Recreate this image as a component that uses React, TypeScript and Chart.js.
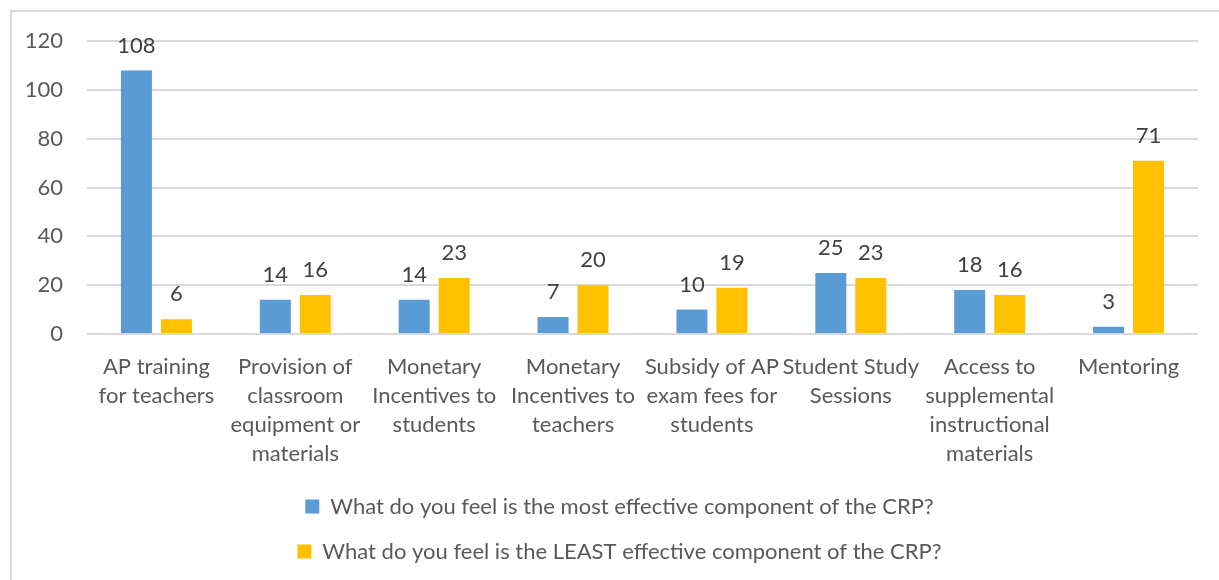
import React, { useEffect, useRef } from "react";
import { Chart, registerables } from "chart.js";

Chart.register(...registerables);

const categories: string[][] = [
  ["AP training", "for teachers"],
  ["Provision of", "classroom", "equipment or", "materials"],
  ["Monetary", "Incentives to", "students"],
  ["Monetary", "Incentives to", "teachers"],
  ["Subsidy of AP", "exam fees for", "students"],
  ["Student Study", "Sessions"],
  ["Access to", "supplemental", "instructional", "materials"],
  ["Mentoring"],
];
const mostEffective = [108, 14, 14, 7, 10, 25, 18, 3];
const leastEffective = [6, 16, 23, 20, 19, 23, 16, 71];
const seriesLabels = [
  "What do you feel is the most effective component of the CRP?",
  "What do you feel is the LEAST effective component of the CRP?",
];
const yTicks = [0, 20, 40, 60, 80, 100, 120];

const FONT = "Lato, 'Liberation Sans', sans-serif";
const FS = 22;

const valueLabels = {
  id: "valueLabels",
  afterDatasetsDraw(chart: any) {
    const ctx = chart.ctx;
    ctx.save();
    ctx.font = `${FS}px ${FONT}`;
    ctx.fillStyle = "#404040";
    ctx.textAlign = "center";
    ctx.textBaseline = "middle";
    chart.data.datasets.forEach((ds: any, di: number) => {
      const meta = chart.getDatasetMeta(di);
      meta.data.forEach((el: any, i: number) => {
        ctx.fillText(String(ds.data[i]), el.x, el.y - 25);
      });
    });
    ctx.restore();
  },
};

export default function App() {
  const ref = useRef<HTMLCanvasElement | null>(null);
  useEffect(() => {
    if (!ref.current) return;
    const chart = new Chart(ref.current, {
      type: "bar",
      data: {
        labels: categories,
        datasets: [
          {
            label: seriesLabels[0],
            data: mostEffective,
            backgroundColor: "#5B9BD5",
            categoryPercentage: 0.576,
            barPercentage: 0.775,
          },
          {
            label: seriesLabels[1],
            data: leastEffective,
            backgroundColor: "#FFC000",
            categoryPercentage: 0.576,
            barPercentage: 0.775,
          },
        ],
      },
      options: {
        animation: false,
        responsive: false,
        maintainAspectRatio: false,
        layout: { padding: { top: 20, right: 0, left: 8, bottom: 7.5 } },
        plugins: {
          tooltip: { enabled: false },
          legend: {
            position: "bottom",
            labels: {
              boxWidth: 14,
              boxHeight: 14,
              padding: 23,
              color: "#595959",
              font: { family: FONT, size: FS },
            },
          },
        },
        scales: {
          x: {
            grid: { display: false, drawTicks: false },
            border: { display: false },
            ticks: {
              color: "#595959",
              font: { family: FONT, size: FS, lineHeight: 29 / FS },
              padding: 18,
              maxRotation: 0,
              autoSkip: false,
            },
            afterFit: (s: any) => {
              s.height = 138.5;
              s.paddingRight = 21;
            },
          },
          y: {
            min: 0,
            max: 120,
            afterBuildTicks: (s: any) => {
              s.ticks = yTicks.map((v) => ({ value: v }));
            },
            grid: { color: "#D9D9D9", lineWidth: 2, drawTicks: false },
            border: { display: false },
            ticks: {
              color: "#595959",
              font: { family: FONT, size: FS },
              padding: 24,
            },
            afterFit: (s: any) => {
              s.width = 67;
            },
          },
        },
      },
      plugins: [valueLabels],
    });
    return () => chart.destroy();
  }, []);

  return (
    <div
      style={{
        position: "fixed",
        left: 0,
        top: 0,
        width: 1219,
        height: 580,
        overflow: "hidden",
        background: "#fff",
      }}
    >
      <div
        style={{
          position: "absolute",
          left: 10,
          top: 10,
          width: 1260,
          height: 620,
          border: "2px solid #D9D9D9",
        }}
      />
      <canvas
        ref={ref}
        width={1207}
        height={576}
        style={{ position: "absolute", left: 12, top: 4, width: 1207, height: 576 }}
      />
    </div>
  );
}
